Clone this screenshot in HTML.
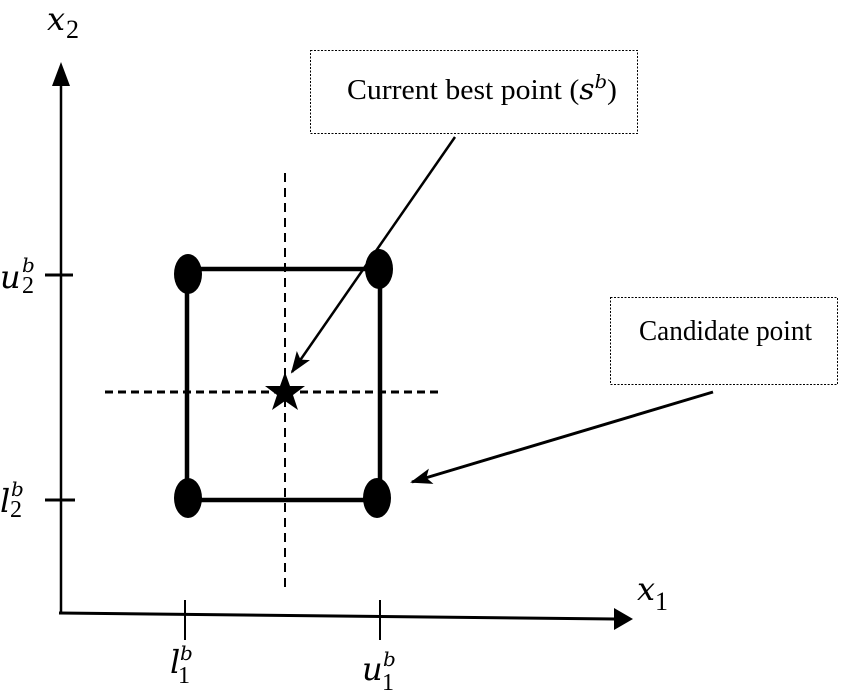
<!DOCTYPE html>
<html><head><meta charset="utf-8"><style>
html,body{margin:0;padding:0;background:#fff;}
svg{display:block}
text{font-family:"Liberation Serif",serif;}
.m{font-family:"DejaVu Serif","Liberation Serif",serif;font-style:italic;}
</style></head><body>
<svg width="843" height="692" viewBox="0 0 843 692" xmlns="http://www.w3.org/2000/svg">
<defs>
<marker id="ah2" markerWidth="22" markerHeight="16" refX="20" refY="8" orient="auto" markerUnits="userSpaceOnUse">
<path d="M0,0 L22,8 L0,16 L5,8 Z" fill="#000"/></marker>
</defs>
<line x1="61" y1="613" x2="61" y2="85" stroke="#000" stroke-width="2.5"/>
<path d="M52,86 L61,62 L70,86 Z" fill="#000"/>
<line x1="59" y1="613" x2="615" y2="619" stroke="#000" stroke-width="3"/>
<path d="M614,608 L633,619 L614,630 Z" fill="#000"/>
<line x1="45" y1="275" x2="73" y2="275" stroke="#000" stroke-width="3"/>
<line x1="45" y1="500" x2="75" y2="500" stroke="#000" stroke-width="3"/>
<line x1="185" y1="600" x2="185" y2="640" stroke="#000" stroke-width="2"/>
<line x1="380" y1="600" x2="380" y2="640" stroke="#000" stroke-width="2"/>
<line x1="285" y1="173" x2="285" y2="590" stroke="#000" stroke-width="2" stroke-dasharray="9,6"/>
<line x1="105" y1="392" x2="443" y2="392" stroke="#000" stroke-width="3" stroke-dasharray="8,5"/>
<rect x="187" y="269" width="193" height="231" fill="none" stroke="#000" stroke-width="4.5"/>
<ellipse cx="188" cy="274" rx="14" ry="20" fill="#000"/>
<ellipse cx="379" cy="269" rx="14" ry="20" fill="#000"/>
<ellipse cx="188" cy="498" rx="14" ry="20" fill="#000"/>
<ellipse cx="377" cy="498" rx="14" ry="20" fill="#000"/>
<path d="M285,372 L290,386 L305,386 L293,395 L298,410 L285,401 L272,410 L277,395 L265,386 L280,386 Z" fill="#000"/>
<rect x="310.5" y="50.5" width="327" height="83" fill="#fff" stroke="#000" stroke-width="1" stroke-dasharray="2,1.5"/>
<text x="347" y="99" font-size="29" textLength="270" lengthAdjust="spacingAndGlyphs">Current best point (<tspan class="m">s</tspan><tspan class="m" font-size="19" dy="-11">b</tspan><tspan dy="11">)</tspan></text>
<rect x="610.5" y="297.5" width="227" height="87" fill="#fff" stroke="#000" stroke-width="1" stroke-dasharray="2,1.5"/>
<text x="639" y="340" font-size="29" textLength="173" lengthAdjust="spacingAndGlyphs">Candidate point</text>
<line x1="455" y1="137" x2="292" y2="372" stroke="#000" stroke-width="2.5" marker-end="url(#ah2)"/>
<line x1="713" y1="392" x2="412" y2="482" stroke="#000" stroke-width="3" marker-end="url(#ah2)"/>
<text class="m" x="47" y="30" font-size="32">x</text><text x="66" y="38" font-size="26">2</text>
<text class="m" x="637" y="600" font-size="32">x</text><text x="655" y="610" font-size="26">1</text>
<text class="m" x="0" y="288" font-size="32">u</text><text x="22" y="293" font-size="24">2</text><text class="m" x="22" y="272" font-size="20">b</text>
<text class="m" x="0" y="512" font-size="32">l</text><text x="10" y="517" font-size="24">2</text><text class="m" x="11" y="496" font-size="20">b</text>
<text class="m" x="170" y="673" font-size="32">l</text><text x="178" y="683" font-size="24">1</text><text class="m" x="180" y="660" font-size="20">b</text>
<text class="m" x="362" y="680" font-size="32">u</text><text x="382" y="690" font-size="24">1</text><text class="m" x="383" y="666" font-size="20">b</text>
</svg>
</body></html>
